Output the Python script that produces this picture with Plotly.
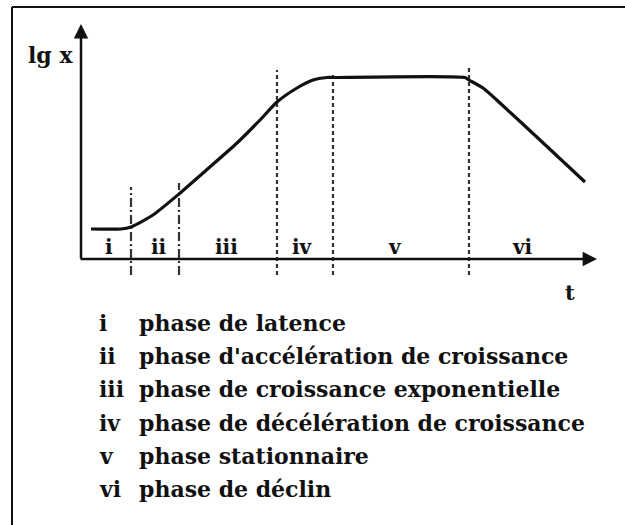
import plotly.graph_objects as go

# ---- data (chart units: t along the time axis, lg x up the vertical axis) ----
t_vals = [1.0, 4.0, 5.0, 7.2, 9.8, 12.2, 15.6, 17.9, 19.6, 21.6, 23.2, 24.6, 25.2,
          38.4, 38.8, 40.2, 41.9, 45.9, 50.4]
lgx_vals = [3.0, 3.0, 3.2, 4.4, 6.5, 8.6, 11.6, 13.9, 15.7, 17.1, 17.9, 18.15, 18.15,
            18.15, 17.9, 17.1, 15.6, 11.9, 7.7]

boundary_t = [5.0, 9.8, 19.6, 25.2, 38.8]
boundary_top = [7.2, 7.6, 18.9, 18.7, 19.4]
boundary_bottom = -1.6

phase_numerals = ["i", "ii", "iii", "iv", "v", "vi"]
phase_label_t = [2.8, 7.8, 14.5, 22.1, 31.4, 44.1]
phase_label_lgx = 1.2
phase_names = [
    "phase de latence",
    "phase d'accélération de croissance",
    "phase de croissance exponentielle",
    "phase de décélération de croissance",
    "phase stationnaire",
    "phase de déclin",
]

axis_t_max = 51.6
axis_lgx_max = 23.5

W, H = 625, 525
SERIF = "DejaVu Serif, Liberation Serif, serif"
INK = "#111111"

fig = go.Figure()

# phase boundaries
dashes = ["9px,3px,2px,3px", "9px,3px,2px,3px", "4px,3px", "4px,3px", "4px,3px"]
for bt, top, d in zip(boundary_t, boundary_top, dashes):
    fig.add_trace(go.Scatter(
        x=[bt, bt], y=[boundary_bottom, top], mode="lines",
        line=dict(color="#333333", width=2.2, dash=d),
        hoverinfo="skip", showlegend=False))

# growth curve
fig.add_trace(go.Scatter(
    x=t_vals, y=lgx_vals, mode="lines",
    line=dict(color=INK, width=3.2, shape="spline", smoothing=0.6),
    showlegend=False))

annotations = []
# axes with arrows
annotations.append(dict(x=axis_t_max, y=0, ax=-0.2, ay=0, xref="x", yref="y",
                        axref="x", ayref="y", showarrow=True, arrowhead=2,
                        arrowsize=1.15, arrowwidth=2.5, arrowcolor=INK, text=""))
annotations.append(dict(x=0, y=axis_lgx_max, ax=0, ay=-0.1, xref="x", yref="y",
                        axref="x", ayref="y", showarrow=True, arrowhead=2,
                        arrowsize=1.15, arrowwidth=2.5, arrowcolor=INK, text=""))
# axis titles
annotations.append(dict(x=-3.1, y=20.4, xref="x", yref="y", text="<b>lg x</b>",
                        showarrow=False, font=dict(family=SERIF, size=22, color=INK)))
annotations.append(dict(x=48.9, y=-3.3, xref="x", yref="y", text="<b>t</b>",
                        showarrow=False, font=dict(family=SERIF, size=21, color=INK)))
# phase numerals on the chart
for lab, pt in zip(phase_numerals, phase_label_t):
    annotations.append(dict(x=pt, y=phase_label_lgx, xref="x", yref="y",
                            text=f"<b>{lab}</b>", showarrow=False,
                            font=dict(family=SERIF, size=20, color=INK)))
# legend list
for i, (num, name) in enumerate(zip(phase_numerals, phase_names)):
    ypx = 323 + i * 33.2
    yp = 1 - ypx / H
    annotations.append(dict(x=97 / W, y=yp, xref="paper", yref="paper",
                            xanchor="left", yanchor="middle", text=f"<b>{num}</b>",
                            showarrow=False, font=dict(family=SERIF, size=22, color=INK)))
    annotations.append(dict(x=137 / W, y=yp, xref="paper", yref="paper",
                            xanchor="left", yanchor="middle", text=f"<b>{name}</b>",
                            showarrow=False, font=dict(family=SERIF, size=22, color=INK)))

# frame (left and top edges)
shapes = [
    dict(type="line", xref="paper", yref="paper", x0=12 / W, x1=12 / W, y0=0, y1=1 - 7 / H,
         line=dict(color=INK, width=2)),
    dict(type="line", xref="paper", yref="paper", x0=12 / W, x1=1, y0=1 - 7 / H, y1=1 - 7 / H,
         line=dict(color=INK, width=2)),
]

fig.update_layout(
    width=W, height=H,
    margin=dict(l=0, r=0, t=0, b=0),
    paper_bgcolor="white", plot_bgcolor="white",
    xaxis=dict(range=[-8.1, 54.4], visible=False, fixedrange=True),
    yaxis=dict(range=[-26.6, 25.9], visible=False, fixedrange=True),
    annotations=annotations, shapes=shapes,
)

fig.write_html(
    "out.html",
    config={"displayModeBar": False},
    post_script="document.body.style.margin='0';document.body.style.overflow='hidden';",
)
